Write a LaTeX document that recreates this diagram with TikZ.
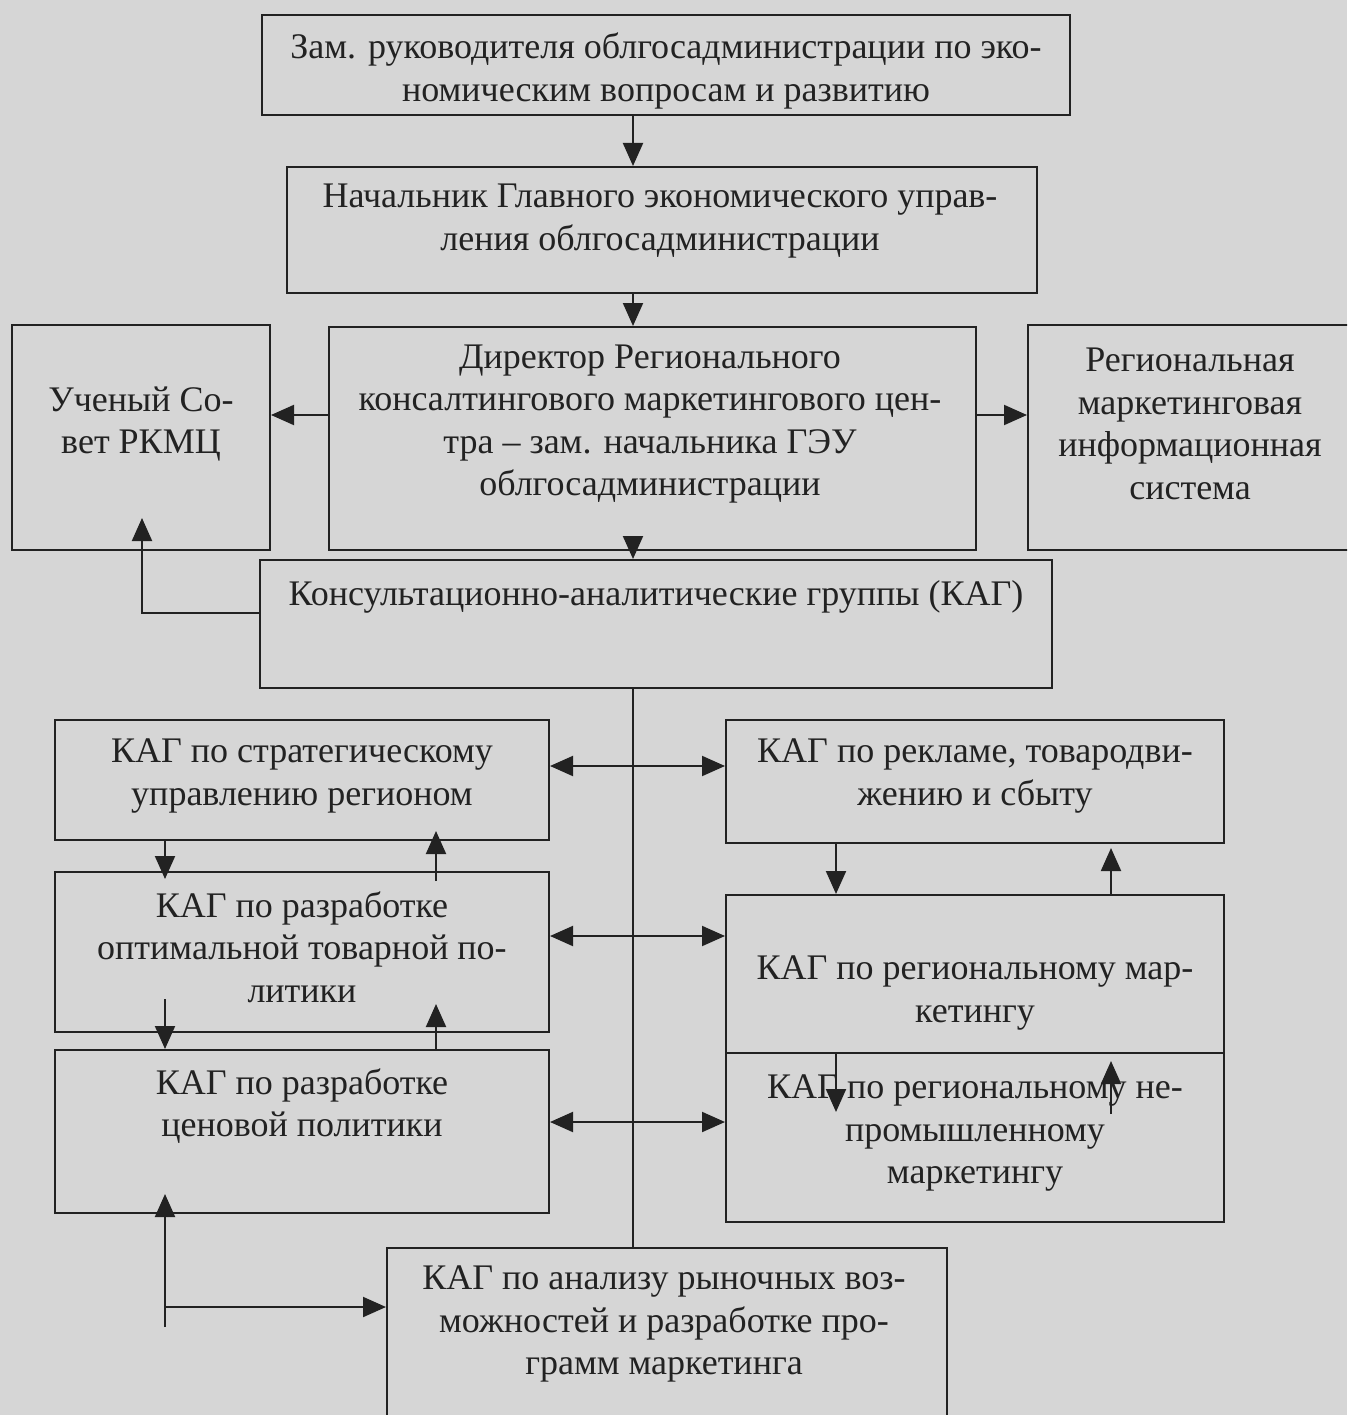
\documentclass[tikz,border=0pt]{standalone}
\usepackage{fontspec}
\setmainfont{Liberation Serif}
\usetikzlibrary{arrows.meta,calc,fit}
\definecolor{bgc}{RGB}{214,214,214}
\definecolor{ink}{RGB}{34,34,34}
\begin{document}
\begin{tikzpicture}[x=1pt,y=-1pt,
  box/.style={draw=ink,line width=2pt,inner sep=0pt,rectangle},
  txt/.style={text=ink,align=center,inner sep=0pt,font=\fontsize{36}{42.5}\selectfont},
  arr/.style={draw=ink,line width=2pt,-{Triangle[length=23pt,width=20pt]}},
  darr/.style={draw=ink,line width=2pt,{Triangle[length=23pt,width=20pt]}-{Triangle[length=23pt,width=20pt]}},
  ln/.style={draw=ink,line width=2pt}]
\fill[bgc] (0,0) rectangle (1347,1415);
\useasboundingbox (0,0) rectangle (1347,1415);
\clip (0,0) rectangle (1347,1415);
% guide coordinates
\coordinate (ax) at (633,0);
\coordinate (L1) at (165,0);
\coordinate (L2) at (436,0);
\coordinate (R1) at (836,0);
\coordinate (R2) at (1111,0);
\coordinate (yA) at (0,415);
\coordinate (yB) at (0,766);
\coordinate (yC) at (0,936);
\coordinate (yD) at (0,1122);
\coordinate (yE) at (0,1307);
\coordinate (lk) at (142,613);
\coordinate (lb) at (165,1327);
% boxes
\node[box,fit={(262,15)(1070,115)}] (b1) {};
\node[box,fit={(287,167)(1037,293)}] (b2) {};
\node[box,fit={(329,327)(976,550)}] (b3) {};
\node[box,fit={(12,325)(270,550)}] (cs) {};
\node[box,fit={(1028,325)(1360,550)}] (info) {};
\node[box,fit={(260,560)(1052,688)}] (kag) {};
\node[box,fit={(55,720)(549,840)}] (s1) {};
\node[box,fit={(55,872)(549,1032)}] (s2) {};
\node[box,fit={(55,1050)(549,1213)}] (s3) {};
\node[box,fit={(726,720)(1224,843)}] (q1) {};
\node[box,fit={(726,895)(1224,1053)}] (q2) {};
\node[box,fit={(726,1053)(1224,1222)}] (q3) {};
\node[box,fit={(387,1248)(947,1450)}] (bot) {};
% texts
\node[txt] (t1) at (666,71) {Зам. руководителя облгосадминистрации по эко-\\номическим вопросам и развитию};
\node[txt] (t2) at (660,221) {Начальник Главного экономического управ-\\ления облгосадминистрации};
\node[txt] (t3) at (650,424) {Директор Регионального\\консалтингового маркетингового цен-\\тра – зам. начальника ГЭУ\\облгосадминистрации};
\node[txt] (tcs) at (141,424) {Ученый Со-\\вет РКМЦ};
\node[txt] (tinfo) at (1190,424) {Региональная\\маркетинговая\\информационная\\система};
\node[txt] (tkag) at (656,597) {Консультационно-аналитические группы (КАГ)};
\node[txt] (ts1) at (302,776) {КАГ по стратегическому\\управлению регионом};
\node[txt] (ts2) at (302,947) {КАГ по разработке\\оптимальной товарной по-\\литики};
\node[txt] (ts3) at (302,1106) {КАГ по разработке\\ценовой политики};
\node[txt] (tq1) at (975,776) {КАГ по рекламе, товародви-\\жению и сбыту};
\node[txt] (tq2) at (975,993) {КАГ по региональному мар-\\кетингу};
\node[txt] (tq3) at (975,1133) {КАГ по региональному не-\\промышленному\\маркетингу};
\node[txt] (tbot) at (664,1324) {КАГ по анализу рыночных воз-\\можностей и разработке про-\\грамм маркетинга};
% connectors: top chain
\draw[arr] (b1.south -| ax) -- (b2.north -| ax);
\draw[arr] (b2.south -| ax) -- (b3.north -| ax);
\draw[arr] (b3.south -| ax) -- (kag.north -| ax);
\draw[arr] (b3.west |- yA) -- (cs.east |- yA);
\draw[arr] (b3.east |- yA) -- (info.west |- yA);
\draw[arr] (kag.west |- lk) -- (lk) -- ($(cs.south -| lk)+(0,-33)$);
% central trunk
\draw[ln] (kag.south -| ax) -- (bot.north -| ax);
\draw[darr] (s1.east |- yB) -- (q1.west |- yB);
\draw[darr] (s2.east |- yC) -- (q2.west |- yC);
\draw[darr] (s3.east |- yD) -- (q3.west |- yD);
% left column
\draw[arr] (s1.south -| L1) -- ($(s2.north -| L1)+(0,8)$);
\draw[arr] ($(s2.north -| L2)+(0,10)$) -- ($(s1.south -| L2)+(0,-10)$);
\draw[arr] ($(s2.south -| L1)+(0,-34)$) -- (s3.north -| L1);
\draw[arr] (s3.north -| L2) -- ($(s2.south -| L2)+(0,-29)$);
\draw[arr] (lb) -- ($(s3.south -| lb)+(0,-20)$);
\draw[arr] (lb |- yE) -- (bot.west |- yE);
% right column
\draw[arr] (q1.south -| R1) -- (q2.north -| R1);
\draw[arr] (q2.north -| R2) -- ($(q1.south -| R2)+(0,4)$);
\draw[arr] (q2.south -| R1) -- ($(q3.north -| R1)+(0,60)$);
\draw[arr] ($(q3.north -| R2)+(0,62)$) -- ($(q2.south -| R2)+(0,7)$);
\end{tikzpicture}
\end{document}
